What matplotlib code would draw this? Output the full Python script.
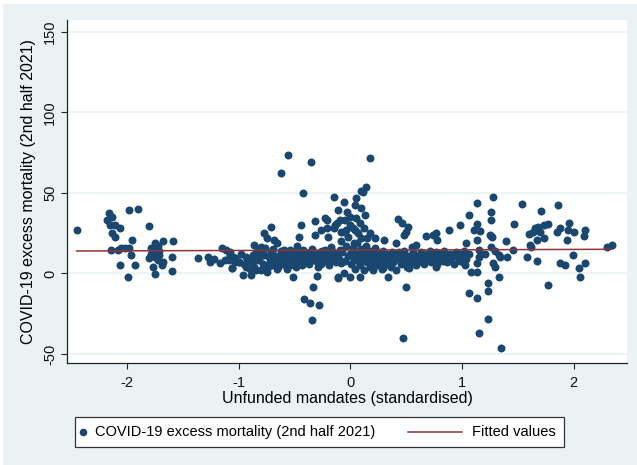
import numpy as np
import matplotlib
matplotlib.use("Agg")
import matplotlib.pyplot as plt
from matplotlib.patches import Rectangle
from matplotlib.lines import Line2D

plt.rcParams['font.family'] = ['Liberation Sans', 'DejaVu Sans']
plt.rcParams['axes.unicode_minus'] = False

# points, grouped by region: (mandates, excess mortality)
left_pts = [
    (-2.45, 27), (-2.16, 37.4), (-2.13, 35.3), (-2.155, 30), (-2.11, 30), (-2.06, 28),
    (-2.13, 25), (-2.11, 22.9), (-1.98, 39.4), (-1.90, 39.9), (-1.80, 29.5), (-1.95, 21),
    (-2.14, 14.6), (-2.08, 14.6), (-2.02, 15.6), (-1.98, 15.6), (-1.96, 11.5), (-2.06, 5.3),
    (-1.93, 5.3), (-1.99, -2), (-2.05, 16), (-2.18, 33),
    (-1.75, 18.7), (-1.68, 20.4), (-1.59, 20.4), (-1.78, 15.6), (-1.74, 14.6), (-1.80, 9.4),
    (-1.75, 10.4), (-1.71, 11.5), (-1.68, 7.3), (-1.72, 8.4), (-1.60, 10), (-1.77, 3.8),
    (-1.75, -0.3), (-1.69, 5.3), (-1.60, 1.7), (-1.76, 13.6), (-1.71, 13.6), (-1.72, 17),
    (-1.78, 12),
]

midleft_pts = [
    (-1.36, 9.4), (-1.27, 10), (-1.26, 7.3), (-1.15, 15.6), (-1.17, 6.3), (-1.08, 13.5),
    (-1.09, 8.4), (-1.06, 3.2), (-1.03, 7.3), (-1.12, 8.4), (-1.05, 10.4), (-1.11, 14.6),
    (-1.08, 11.5), (-1.03, 9.4), (-1.00, 7.3), (-1.22, 9),
]

# scattered points above / below the band, left of zero
upper_left_pts = [
    (-0.56, 73.6), (-0.35, 69.4), (-0.62, 62.2), (-0.42, 49.8), (-0.15, 47.7), (-0.06, 44.6),
    (-0.71, 28.7), (-0.77, 25), (-0.75, 21.9), (-0.68, 20.8), (-0.66, 19.1), (-0.86, 17.7),
    (-0.83, 14.6), (-0.80, 16.6), (-0.44, 30.1), (-0.46, 22.9), (-0.32, 32.6), (-0.23, 34.3),
    (-0.26, 27), (-0.21, 28.1), (-0.32, 23.9), (-0.14, 30.1), (-0.11, 39.4), (-0.09, 33.2),
    (-0.08, 26), (-0.48, 17.1), (-0.21, 33.2), (-0.20, 22.9), (-0.17, 16.6),
    (-0.51, -2), (-0.30, -1.6), (-0.33, -8.2), (-0.41, -16), (-0.36, -18.5), (-0.28, -19.6),
    (-0.34, -28.9), (-0.11, -2), (-0.11, -3), (-0.06, 0.1),
]

band_left_pts = [
    (-1.08, 11.5), (-1.06, 3.2), (-1.00, 7.3), (-0.96, -1), (-0.93, 4.2), (-0.89, -1),
    (-0.86, 4.2), (-0.83, 8.4), (-0.80, 2.2), (-0.75, 1.1), (-0.72, 7.3), (-0.68, 8.4),
    (-0.65, 4.2), (-0.60, 6.3), (-0.56, 7.3), (-0.53, 10.4), (-0.48, 7.3), (-0.44, 11.5),
    (-0.39, 8.4), (-0.36, 13.5), (-0.32, 11.5), (-0.27, 13.5), (-0.29, 4.2), (-0.23, 10.4),
    (-0.18, 12.5), (-0.14, 10.4), (-0.09, 14.6), (-0.08, 6.3), (-0.87, 11.5), (-0.92, 8.4),
    (-0.77, 11.5), (-0.54, 14.6), (-0.63, 11.5), (-0.59, 14.6), (-0.42, 14.6), (-0.23, 14.6),
    (-0.98, 12), (-0.95, 6), (-0.93, 10), (-0.90, 3), (-0.88, 7), (-0.85, 12), (-0.84, 2),
    (-0.82, 9), (-0.80, 13), (-0.78, 6), (-0.76, 16), (-0.74, 4), (-0.73, 10), (-0.71, 13),
    (-0.70, 5), (-0.69, 15), (-0.67, 11), (-0.66, 3), (-0.64, 8), (-0.62, 14), (-0.61, 6),
    (-0.59, 9), (-0.58, 12), (-0.57, 3), (-0.55, 11), (-0.54, 5), (-0.52, 8), (-0.51, 13),
    (-0.50, 9), (-0.49, 4), (-0.47, 12), (-0.46, 7), (-0.45, 10), (-0.43, 5), (-0.41, 13),
    (-0.40, 8), (-0.38, 11), (-0.37, 6), (-0.35, 9), (-0.34, 15), (-0.31, 8), (-0.30, 12),
    (-0.28, 9), (-0.26, 6), (-0.25, 14), (-0.22, 8), (-0.21, 12), (-0.19, 5), (-0.17, 9),
    (-0.16, 14), (-0.13, 7), (-0.12, 12), (-0.10, 9), (-0.07, 13), (-0.05, 8), (-0.04, 17),
    (-0.02, 11),
]

# the tall column just right of zero
column_pts = [
    (0.18, 71.5), (0.145, 53.9), (0.10, 51.4), (0.115, 50.8), (0.055, 46.7), (0.04, 42.5),
    (0.10, 40.5), (-0.03, 38.4), (-0.05, 33.2), (0.055, 34.3), (-0.12, 31.2), (0.00, 30.1),
    (0.085, 31.2), (0.04, 27), (-0.06, 26), (-0.15, 28.1), (0.175, 25), (0.22, 21.9),
    (0.30, 21), (-0.02, 22.9), (0.10, 21.9), (0.00, 35), (0.02, 28), (-0.08, 20),
    (0.07, 25), (0.12, 28), (0.15, 22), (-0.04, 27), (0.03, 19), (0.13, 36),
    (0.085, -2.4), (0.00, -2), (0.34, -2),
]

band_right_pts = [
    (0.00, 12), (0.01, 6), (0.02, 16), (0.03, 9), (0.04, 3), (0.05, 13), (0.06, 19),
    (0.07, 8), (0.08, 11), (0.09, 5), (0.10, 15), (0.11, 9), (0.12, 2), (0.13, 12),
    (0.14, 17), (0.15, 7), (0.16, 10), (0.17, 14), (0.18, 4), (0.19, 9), (0.20, 12),
    (0.21, 7), (0.22, 16), (0.23, 10), (0.24, 5), (0.25, 13), (0.26, 8), (0.27, 11),
    (0.28, 3), (0.29, 14), (0.30, 9), (0.31, 6), (0.32, 12), (0.33, 8), (0.35, 10),
    (0.36, 4), (0.37, 13), (0.38, 7), (0.40, 11), (0.41, 2), (0.42, 9), (0.44, 13),
    (0.45, 6), (0.47, 10), (0.48, 14), (0.50, 8), (0.51, 4), (0.53, 11), (0.54, 7),
    (0.56, 13), (0.57, 9), (0.59, 5), (0.60, 11), (0.62, 8), (0.63, 13), (0.65, 10),
    (0.66, 6), (0.68, 12), (0.69, 9), (0.71, 14), (0.72, 7), (0.74, 11), (0.75, 9),
    (0.77, 13), (0.78, 6), (0.80, 10), (0.81, 12), (0.83, 8), (0.84, 14), (0.86, 10),
    (0.87, 7), (0.89, 12), (0.90, 9), (0.92, 11), (0.93, 6), (0.95, 13), (0.96, 10),
    (0.98, 8), (0.99, 12), (1.01, 10), (1.02, 14), (1.04, 9), (1.06, 12),
    (0.53, 3.2), (0.77, 4.2), (0.29, 3.2), (0.20, 2.2),
]

right_pts = [
    (0.43, 33.5), (0.46, 31.2), (0.52, 29), (0.50, 26), (0.48, 24), (0.41, 18.8),
    (0.55, 16.6), (0.59, 17.7), (0.68, 23), (0.74, 24), (0.77, 25), (0.78, 20.8),
    (0.88, 27), (0.98, 30.3), (1.06, 36.3), (1.13, 43.6), (1.13, 30.6), (1.11, 26.8),
    (1.16, 26.6), (1.04, 19), (1.13, 20.8), (1.15, 14.6), (1.02, 6.5), (1.03, 5),
    (1.08, 1.1), (1.13, 1.1), (1.13, 6.3), (1.15, 10), (1.06, -12.3), (1.13, -15.4),
    (0.50, -8.6), (0.47, -39.9),
    (1.28, 47.3), (1.26, 38.4), (1.26, 33.2), (1.25, 23.9), (1.27, 22.5), (1.39, 20.4),
    (1.26, 16.3), (1.33, 11.5), (1.40, 10), (1.28, 6.3), (1.30, 3.8), (1.33, -2),
    (1.23, -5.7), (1.23, -10.7), (1.23, -28.4), (1.15, -37.1), (1.35, -46.5), (1.34, 10.4),
    (1.26, 23.3), (1.46, 14.6), (1.47, 30.6), (1.54, 43), (1.21, 12), (1.30, 14),
]

far_right_pts = [
    (1.71, 38.8), (1.86, 42.5), (1.65, 28.1), (1.68, 29.1), (1.73, 30.1), (1.77, 30.7),
    (1.70, 26), (1.64, 26), (1.60, 24.5), (1.73, 21.9), (1.67, 20.8), (1.61, 17.7),
    (1.62, 16.3), (1.85, 26), (1.88, 28.1), (1.96, 31.6), (1.95, 27), (2.00, 26),
    (1.94, 20.8), (2.10, 27), (2.09, 23.3), (1.58, 10), (1.67, 7.8), (1.88, 6.3),
    (1.92, 5.3), (1.99, 11.5), (2.05, 3.2), (2.10, 6.3), (2.06, -2.4), (1.77, -7.1),
    (2.30, 16.3), (2.34, 17.7),
]

pts = np.array(left_pts + midleft_pts + upper_left_pts + band_left_pts
               + column_pts + band_right_pts + right_pts + far_right_pts)
x = pts[:, 0]
y = pts[:, 1]

# linear fit, like Stata's lfit
slope, intercept = np.polyfit(x, y, 1)
fit_x = np.array([x.min(), x.max()])
fit_y = intercept + slope * fit_x

navy = '#1a476f'
maroon = '#90353b'
bg = '#eaf2f3'

fig = plt.figure(figsize=(6.37, 4.65), dpi=100, facecolor='white')
fig.add_artist(Rectangle((3 / 637, 0), 1, 461 / 465, transform=fig.transFigure,
                         facecolor=bg, edgecolor='none', zorder=-10))

ax = fig.add_axes([66.7 / 637, (465 - 363.3) / 465, (627.3 - 66.7) / 637, (363.3 - 20) / 465])
ax.set_facecolor('white')

ax.scatter(x, y, s=33, color=navy, linewidths=0, zorder=3)
ax.plot(fit_x, fit_y, color=maroon, lw=1.1, zorder=4)

ax.set_xlim(-2.539, 2.48)
ax.set_ylim(-55.8, 157.3)
ax.set_xticks([-2, -1, 0, 1, 2])
ax.set_yticks([-50, 0, 50, 100, 150])
ax.grid(axis='y', color=bg, lw=1.2, zorder=0)
ax.set_axisbelow(True)

for s in ['top', 'right']:
    ax.spines[s].set_visible(False)
for s in ['left', 'bottom']:
    ax.spines[s].set_color('#222222')
    ax.spines[s].set_linewidth(0.9)

ax.tick_params(axis='both', direction='out', length=4, width=0.8, color='#222222',
               labelsize=10.5, labelcolor='#111111')
ax.tick_params(axis='x', pad=5)
ax.tick_params(axis='y', pad=3)
for lbl in ax.get_yticklabels():
    lbl.set_rotation(90)
    lbl.set_va('center')

ax.set_xlabel('Unfunded mandates (standardised)', fontsize=11.5, labelpad=1)
ax.set_ylabel('COVID-19 excess mortality (2nd half 2021)', fontsize=11.5, labelpad=5)

# legend box drawn by hand to match Stata's layout
fig.add_artist(Rectangle((75 / 637, 18 / 465), 489 / 637, 30 / 465, transform=fig.transFigure,
                         facecolor='white', edgecolor='#333333', lw=0.9))
ly = 33 / 465
fig.add_artist(Line2D([83 / 637], [ly], transform=fig.transFigure, marker='o',
                      markersize=5.5, color=navy, markeredgewidth=0, linestyle='none'))
fig.text(95 / 637, ly, 'COVID-19 excess mortality (2nd half 2021)', fontsize=10.5,
         va='center', ha='left')
fig.add_artist(Line2D([408 / 637, 462 / 637], [ly, ly], transform=fig.transFigure,
                      color=maroon, lw=1.1))
fig.text(472 / 637, ly, 'Fitted values', fontsize=10.5, va='center', ha='left')

fig.savefig('out.png', dpi=100, facecolor='white')
